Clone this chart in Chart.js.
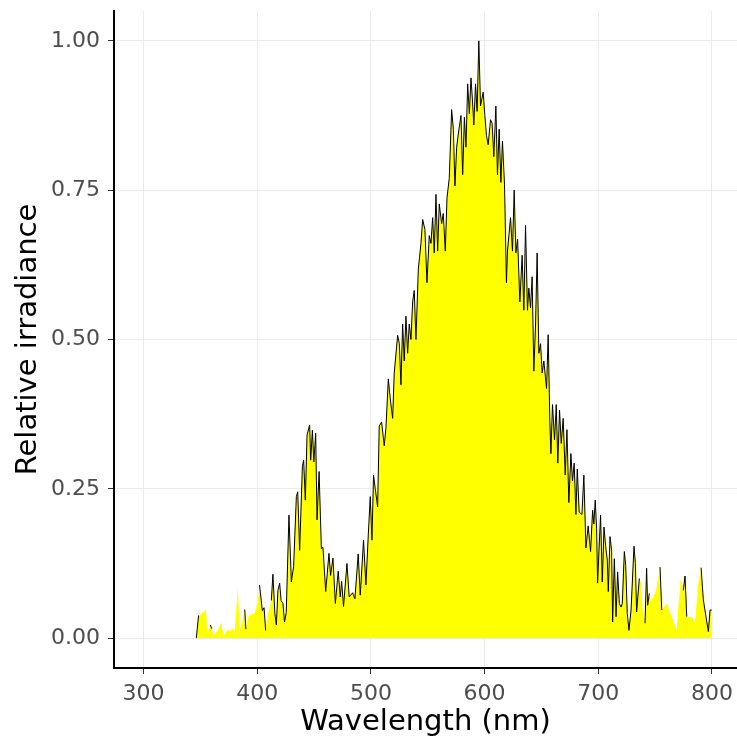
<!DOCTYPE html>
<html>
<head>
<meta charset="utf-8">
<script src="https://cdn.jsdelivr.net/npm/chart.js@4.4.1/dist/chart.umd.min.js"></script>
<style>
  html, body { margin: 0; padding: 0; background: #fff; }
  #wrap { width: 737px; height: 740px; }
</style>
</head>
<body>
<div id="wrap"><canvas id="spectrum" width="737" height="740"></canvas></div>
<script>
// spectrum (nm, relative irradiance)
const wavelength = [
  346.4, 348.4, 350.5, 353, 355, 356, 358.7, 360, 361.6, 365, 368.4, 369.5, 371, 374, 376, 378.6, 380, 383, 384.5, 387,
  389, 390, 392.4, 395, 397.7, 400.5, 402, 404.5, 406, 407.4, 409.5, 412.4, 413.8, 415.5, 416.8, 418.2, 419.7, 421, 422.6, 424,
  425.5, 427.9, 430, 432, 434.4, 435.6, 437.3, 439.7, 440.8, 442.3, 443.8, 446.1, 447, 448.5, 449.8, 451.4, 452.6, 454.4, 456.4, 457.8,
  460.2, 463.1, 464.5, 466.6, 468.7, 471.2, 473, 474.2, 475.9, 478.9, 480.9, 483.9, 485.9, 488.8, 490.6, 493.5, 495.6, 497.7, 499.4, 500.9,
  502.3, 503.8, 505.9, 507.3, 509.4, 511.7, 513.2, 515.3, 517, 519.1, 520.5, 523.5, 525, 526.4, 527.9, 529.3, 530.8, 532.3, 533.7, 535.2,
  536.7, 538.1, 539.6, 541.7, 544, 545.5, 547.5, 549.3, 551.3, 552.8, 554.3, 555.7, 557.2, 558.7, 560.1, 562.2, 563.6, 565.4, 566.9, 568.9,
  571, 572.5, 573.9, 575.4, 577.2, 579.2, 580.7, 582.2, 583.6, 585.1, 586.6, 588, 589.3, 590.5, 592, 593.4, 594.9, 596.4, 598.7, 600.2,
  601.6, 603.1, 605.2, 606.6, 608.1, 609.9, 611.3, 612.8, 614.3, 615.7, 617.5, 619.2, 620.1, 622.8, 624.5, 626, 627.5, 629, 631, 633,
  634.5, 636, 637.7, 638.9, 640.4, 641.8, 643.3, 644.8, 646.2, 647.7, 649.2, 650.6, 652.1, 654.5, 655.9, 657.4, 658.3, 659.7, 661.5, 663,
  664.4, 665.9, 667.4, 669.1, 670.9, 672.4, 674.1, 675.9, 677.3, 678.8, 680.3, 681.5, 683.2, 685.6, 687.3, 689.1, 691.1, 693.2, 695, 696.1,
  697.3, 698.5, 699.4, 700.6, 702, 703.5, 705, 706.5, 707.9, 708.8, 710.3, 711.7, 712.6, 714.1, 715.6, 717, 718.5, 720, 721.1, 722.9,
  724.1, 725.5, 727, 728.8, 731.4, 732.6, 733.7, 736.1, 737.6, 739, 741.1, 742.5, 743.4, 744.9, 746.4, 748.4, 750.8, 754.3, 755.8, 760.2,
  764.6, 769, 770.4, 772.5, 774.8, 776.3, 777.8, 782.2, 785.1, 788, 790.4, 792.4, 796.8, 798.3, 799.8
];
const irradiance = [
  0, 0.038, 0.040, 0.044, 0.048, 0.008, 0.022, 0.016, 0.005, 0.012, 0.026, 0.012, 0.005, 0.014, 0.012, 0.017, 0.008, 0.085, 0.012, 0.030,
  0.048, 0.015, 0.037, 0.040, 0.042, 0.060, 0.089, 0.046, 0.051, 0.013, 0.041, 0.063, 0.107, 0.041, 0.022, 0.080, 0.092, 0.063, 0.058, 0.027,
  0.043, 0.206, 0.094, 0.120, 0.237, 0.245, 0.147, 0.287, 0.298, 0.231, 0.340, 0.357, 0.298, 0.348, 0.295, 0.343, 0.198, 0.279, 0.150, 0.152,
  0.078, 0.142, 0.105, 0.134, 0.058, 0.112, 0.069, 0.095, 0.053, 0.125, 0.069, 0.076, 0.066, 0.141, 0.072, 0.164, 0.089, 0.174, 0.237, 0.164,
  0.273, 0.250, 0.220, 0.355, 0.362, 0.322, 0.352, 0.434, 0.401, 0.368, 0.444, 0.507, 0.493, 0.424, 0.526, 0.464, 0.539, 0.477, 0.526, 0.500,
  0.563, 0.582, 0.500, 0.618, 0.661, 0.701, 0.684, 0.595, 0.674, 0.661, 0.704, 0.645, 0.743, 0.648, 0.727, 0.694, 0.711, 0.648, 0.737, 0.770,
  0.885, 0.852, 0.757, 0.822, 0.849, 0.875, 0.776, 0.872, 0.822, 0.928, 0.878, 0.938, 0.901, 0.859, 0.928, 0.882, 1.000, 0.891, 0.914, 0.875,
  0.842, 0.826, 0.868, 0.862, 0.806, 0.891, 0.776, 0.852, 0.763, 0.832, 0.760, 0.595, 0.648, 0.704, 0.648, 0.750, 0.645, 0.668, 0.563, 0.641,
  0.549, 0.691, 0.549, 0.586, 0.553, 0.605, 0.447, 0.526, 0.645, 0.477, 0.493, 0.444, 0.464, 0.418, 0.508, 0.362, 0.309, 0.391, 0.332, 0.391,
  0.293, 0.382, 0.326, 0.368, 0.273, 0.349, 0.227, 0.309, 0.263, 0.293, 0.207, 0.283, 0.211, 0.207, 0.273, 0.151, 0.188, 0.145, 0.214, 0.191,
  0.231, 0.184, 0.092, 0.147, 0.206, 0.094, 0.186, 0.153, 0.131, 0.078, 0.170, 0.147, 0.027, 0.133, 0.036, 0.111, 0.058, 0.052, 0.058, 0.145,
  0.122, 0.041, 0.013, 0.047, 0.154, 0.125, 0.044, 0.100, 0.092, 0.047, 0.025, 0.117, 0.055, 0.075, 0.061, 0.069, 0.080, 0.119, 0.047, 0.058,
  0.036, 0.013, 0.052, 0.100, 0.080, 0.104, 0.036, 0.036, 0.027, 0.092, 0.118, 0.064, 0.011, 0.047, 0.047
];
// 1 where the black trace is drawn, 0 where only the yellow fill shows
const traced = [
  1, 1, 0, 0, 0, 0, 1, 1, 0, 0, 1, 0, 0, 0, 0, 1, 0, 0, 0, 0,
  1, 1, 0, 0, 0, 0, 1, 1, 1, 1, 0, 1, 1, 1, 1, 1, 1, 1, 1, 1,
  1, 1, 1, 1, 1, 1, 1, 1, 1, 1, 1, 1, 1, 1, 1, 1, 1, 1, 1, 1,
  1, 1, 1, 1, 1, 1, 1, 1, 1, 1, 1, 1, 1, 1, 1, 1, 1, 1, 1, 1,
  1, 1, 1, 1, 1, 1, 1, 1, 1, 1, 1, 1, 1, 1, 1, 1, 1, 1, 1, 1,
  1, 1, 1, 1, 1, 1, 1, 1, 1, 1, 1, 1, 1, 1, 1, 1, 1, 1, 1, 1,
  1, 1, 1, 1, 1, 1, 1, 1, 1, 1, 1, 1, 1, 1, 1, 1, 1, 1, 1, 1,
  1, 1, 1, 1, 1, 1, 1, 1, 1, 1, 1, 1, 1, 1, 1, 1, 1, 1, 1, 1,
  1, 1, 1, 1, 1, 1, 1, 1, 1, 1, 1, 1, 1, 1, 1, 1, 1, 1, 1, 1,
  1, 1, 1, 1, 1, 1, 1, 1, 1, 1, 1, 1, 1, 1, 1, 1, 1, 1, 1, 1,
  1, 1, 1, 1, 1, 1, 1, 1, 1, 1, 1, 1, 1, 1, 1, 1, 1, 1, 1, 1,
  1, 1, 1, 1, 1, 1, 1, 1, 0, 0, 1, 1, 1, 1, 0, 0, 0, 1, 1, 0,
  0, 1, 0, 0, 1, 1, 1, 0, 0, 0, 1, 1, 1, 1, 1
];
const xTicks = [300, 400, 500, 600, 700, 800];
const yTicks = [0, 0.25, 0.5, 0.75, 1];

const fillPoints = wavelength.map((w, i) => ({ x: w, y: irradiance[i] }));
const tracePoints = wavelength.map((w, i) => ({ x: w, y: traced[i] ? irradiance[i] : null }));

const tickFont = { family: 'DejaVu Sans', size: 22 };
const titleFont = { family: 'DejaVu Sans', size: 29 };

const ctx = document.getElementById('spectrum').getContext('2d');
new Chart(ctx, {
  type: 'line',
  data: {
    datasets: [
      {
        data: tracePoints,
        borderColor: '#000000',
        borderWidth: 1,
        pointRadius: 0,
        fill: false,
        spanGaps: false,
        tension: 0,
        order: 0
      },
      {
        data: fillPoints,
        borderWidth: 0,
        borderColor: 'rgba(0,0,0,0)',
        backgroundColor: '#ffff00',
        pointRadius: 0,
        fill: 'origin',
        tension: 0,
        order: 1
      }
    ]
  },
  options: {
    responsive: false,
    animation: false,
    events: [],
    layout: { padding: { top: 11, right: 0, left: 0, bottom: 0 } },
    plugins: { legend: { display: false }, tooltip: { enabled: false } },
    scales: {
      x: {
        type: 'linear',
        min: 274,
        max: 822,
        afterFit: (s) => { s.height = 72; s.paddingLeft = 0; s.paddingRight = 0; },
        afterBuildTicks: (s) => { s.ticks = xTicks.map(v => ({ value: v })); },
        grid: { color: '#ebebeb', lineWidth: 1, tickColor: '#333333', tickLength: 6 },
        border: { color: '#000000', width: 2 },
        ticks: { color: '#4d4d4d', font: tickFont, padding: 7, maxRotation: 0 },
        title: { display: true, text: 'Wavelength (nm)', color: '#000000', font: titleFont, padding: { top: 0, bottom: 0 } }
      },
      y: {
        type: 'linear',
        min: -0.05,
        max: 1.05,
        afterFit: (s) => { s.width = 114; s.paddingTop = 0; s.paddingBottom = 0; },
        afterBuildTicks: (s) => { s.ticks = yTicks.map(v => ({ value: v })); },
        grid: { color: '#ebebeb', lineWidth: 1, tickColor: '#333333', tickLength: 6 },
        border: { color: '#000000', width: 2 },
        ticks: { color: '#4d4d4d', font: tickFont, padding: 8, callback: (v) => v.toFixed(2) },
        title: { display: true, text: 'Relative irradiance', color: '#000000', font: titleFont, padding: { top: 11, bottom: 0 } }
      }
    }
  }
});
</script>
</body>
</html>
